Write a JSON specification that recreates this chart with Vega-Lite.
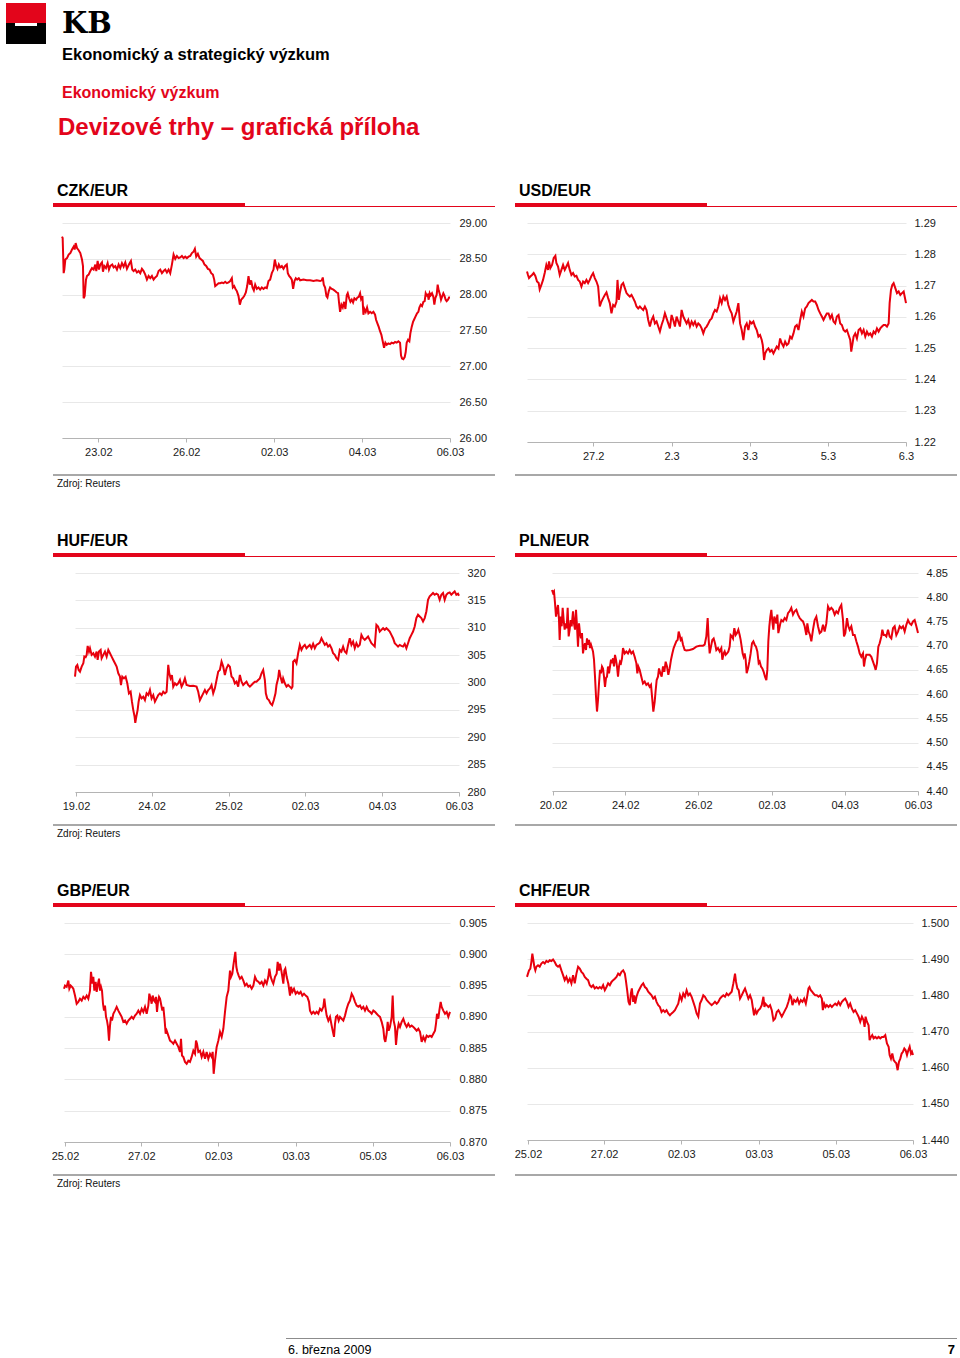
{
"$schema": "https://vega.github.io/schema/vega-lite/v6.json",
"padding": {"left": 6, "top": 3, "right": 0, "bottom": 0},
"autosize": {"type": "pad"},
"background": "white",
"bounds": "flush",
"spacing": 0,
"config": {"view": {"stroke": null}, "font": "Liberation Sans", "axis": {"labelFont": "Liberation Sans"}, "title": {"font": "Liberation Sans"}},
"datasets": {
"czk": [{"t":35,"v":28.81},{"t":37,"v":28.79},{"t":40,"v":28.30},{"t":42,"v":28.35},{"t":45,"v":28.49},{"t":50,"v":28.51},{"t":55,"v":28.56},{"t":60,"v":28.58},{"t":65,"v":28.63},{"t":70,"v":28.67},{"t":73,"v":28.63},{"t":76,"v":28.72},{"t":80,"v":28.65},{"t":85,"v":28.62},{"t":90,"v":28.58},{"t":95,"v":28.49},{"t":98,"v":28.40},{"t":100,"v":27.95},{"t":103,"v":27.98},{"t":107,"v":28.21},{"t":110,"v":28.26},{"t":115,"v":28.28},{"t":120,"v":28.33},{"t":125,"v":28.37},{"t":130,"v":28.35},{"t":135,"v":28.42},{"t":138,"v":28.33},{"t":142,"v":28.47},{"t":146,"v":28.35},{"t":150,"v":28.42},{"t":155,"v":28.45},{"t":158,"v":28.32},{"t":162,"v":28.40},{"t":167,"v":28.37},{"t":172,"v":28.44},{"t":176,"v":28.35},{"t":180,"v":28.40},{"t":186,"v":28.42},{"t":190,"v":28.38},{"t":195,"v":28.40},{"t":200,"v":28.35},{"t":205,"v":28.42},{"t":210,"v":28.37},{"t":215,"v":28.44},{"t":220,"v":28.39},{"t":225,"v":28.45},{"t":230,"v":28.36},{"t":236,"v":28.42},{"t":242,"v":28.47},{"t":246,"v":28.35},{"t":250,"v":28.33},{"t":255,"v":28.35},{"t":260,"v":28.31},{"t":265,"v":28.33},{"t":270,"v":28.30},{"t":275,"v":28.36},{"t":280,"v":28.33},{"t":285,"v":28.28},{"t":290,"v":28.21},{"t":295,"v":28.26},{"t":300,"v":28.23},{"t":305,"v":28.26},{"t":310,"v":28.21},{"t":315,"v":28.24},{"t":320,"v":28.26},{"t":325,"v":28.33},{"t":330,"v":28.35},{"t":335,"v":28.30},{"t":340,"v":28.33},{"t":345,"v":28.35},{"t":350,"v":28.31},{"t":355,"v":28.35},{"t":360,"v":28.30},{"t":365,"v":28.42},{"t":370,"v":28.56},{"t":375,"v":28.50},{"t":380,"v":28.54},{"t":385,"v":28.51},{"t":390,"v":28.52},{"t":395,"v":28.54},{"t":400,"v":28.51},{"t":405,"v":28.53},{"t":410,"v":28.51},{"t":415,"v":28.53},{"t":420,"v":28.54},{"t":425,"v":28.58},{"t":430,"v":28.60},{"t":434,"v":28.64},{"t":438,"v":28.53},{"t":443,"v":28.57},{"t":448,"v":28.51},{"t":453,"v":28.49},{"t":458,"v":28.47},{"t":463,"v":28.42},{"t":468,"v":28.40},{"t":473,"v":28.36},{"t":478,"v":28.35},{"t":483,"v":28.30},{"t":488,"v":28.28},{"t":492,"v":28.21},{"t":495,"v":28.12},{"t":500,"v":28.14},{"t":505,"v":28.16},{"t":510,"v":28.16},{"t":515,"v":28.17},{"t":520,"v":28.16},{"t":525,"v":28.18},{"t":530,"v":28.16},{"t":535,"v":28.17},{"t":540,"v":28.19},{"t":545,"v":28.23},{"t":548,"v":28.10},{"t":552,"v":28.12},{"t":556,"v":28.08},{"t":560,"v":28.05},{"t":565,"v":27.98},{"t":569,"v":27.86},{"t":573,"v":27.93},{"t":577,"v":27.95},{"t":582,"v":27.98},{"t":587,"v":28.03},{"t":591,"v":28.12},{"t":595,"v":28.26},{"t":599,"v":28.14},{"t":603,"v":28.20},{"t":607,"v":28.10},{"t":611,"v":28.06},{"t":615,"v":28.14},{"t":620,"v":28.08},{"t":625,"v":28.10},{"t":630,"v":28.07},{"t":635,"v":28.10},{"t":640,"v":28.08},{"t":645,"v":28.10},{"t":650,"v":28.09},{"t":655,"v":28.19},{"t":660,"v":28.21},{"t":665,"v":28.30},{"t":670,"v":28.35},{"t":674,"v":28.49},{"t":678,"v":28.40},{"t":682,"v":28.36},{"t":686,"v":28.42},{"t":690,"v":28.38},{"t":695,"v":28.40},{"t":700,"v":28.36},{"t":705,"v":28.40},{"t":710,"v":28.42},{"t":713,"v":28.30},{"t":717,"v":28.26},{"t":721,"v":28.24},{"t":725,"v":28.21},{"t":729,"v":28.08},{"t":733,"v":28.19},{"t":737,"v":28.23},{"t":741,"v":28.21},{"t":746,"v":28.23},{"t":750,"v":28.20},{"t":760,"v":28.21},{"t":770,"v":28.20},{"t":780,"v":28.20},{"t":790,"v":28.19},{"t":800,"v":28.20},{"t":810,"v":28.19},{"t":815,"v":28.20},{"t":818,"v":28.24},{"t":821,"v":28.14},{"t":825,"v":28.10},{"t":829,"v":27.98},{"t":832,"v":27.96},{"t":836,"v":28.05},{"t":840,"v":28.10},{"t":845,"v":28.08},{"t":850,"v":28.07},{"t":855,"v":28.05},{"t":860,"v":28.03},{"t":864,"v":28.02},{"t":867,"v":27.88},{"t":870,"v":27.76},{"t":874,"v":27.86},{"t":878,"v":27.82},{"t":882,"v":27.90},{"t":886,"v":27.80},{"t":890,"v":27.99},{"t":893,"v":28.02},{"t":897,"v":27.95},{"t":901,"v":27.90},{"t":905,"v":27.93},{"t":909,"v":27.89},{"t":913,"v":27.95},{"t":918,"v":27.93},{"t":922,"v":27.96},{"t":926,"v":27.97},{"t":930,"v":28.02},{"t":933,"v":27.94},{"t":937,"v":27.98},{"t":940,"v":27.72},{"t":943,"v":27.80},{"t":947,"v":27.76},{"t":951,"v":27.82},{"t":955,"v":27.74},{"t":960,"v":27.76},{"t":965,"v":27.74},{"t":970,"v":27.76},{"t":975,"v":27.72},{"t":978,"v":27.65},{"t":982,"v":27.60},{"t":986,"v":27.55},{"t":990,"v":27.49},{"t":994,"v":27.44},{"t":998,"v":27.35},{"t":1002,"v":27.26},{"t":1006,"v":27.33},{"t":1010,"v":27.30},{"t":1015,"v":27.32},{"t":1020,"v":27.31},{"t":1025,"v":27.33},{"t":1030,"v":27.32},{"t":1035,"v":27.34},{"t":1040,"v":27.33},{"t":1045,"v":27.35},{"t":1050,"v":27.33},{"t":1053,"v":27.15},{"t":1056,"v":27.11},{"t":1060,"v":27.10},{"t":1064,"v":27.13},{"t":1067,"v":27.20},{"t":1070,"v":27.33},{"t":1074,"v":27.37},{"t":1078,"v":27.35},{"t":1081,"v":27.46},{"t":1085,"v":27.55},{"t":1089,"v":27.62},{"t":1093,"v":27.66},{"t":1097,"v":27.70},{"t":1101,"v":27.74},{"t":1105,"v":27.76},{"t":1108,"v":27.82},{"t":1112,"v":27.86},{"t":1116,"v":27.84},{"t":1120,"v":27.90},{"t":1124,"v":27.91},{"t":1127,"v":28.02},{"t":1130,"v":27.99},{"t":1133,"v":28.00},{"t":1136,"v":27.93},{"t":1139,"v":28.02},{"t":1142,"v":27.99},{"t":1146,"v":28.02},{"t":1150,"v":27.97},{"t":1153,"v":27.86},{"t":1156,"v":27.95},{"t":1160,"v":28.00},{"t":1163,"v":28.14},{"t":1166,"v":28.06},{"t":1170,"v":28.00},{"t":1173,"v":27.93},{"t":1176,"v":27.97},{"t":1180,"v":28.02},{"t":1183,"v":27.99},{"t":1187,"v":27.93},{"t":1190,"v":27.91},{"t":1194,"v":27.93},{"t":1197,"v":27.96},{"t":1200,"v":27.96}],
"usd": [{"t":52,"v":1.2745},{"t":55,"v":1.2734},{"t":58,"v":1.2724},{"t":62,"v":1.2729},{"t":67,"v":1.2734},{"t":72,"v":1.2740},{"t":77,"v":1.2731},{"t":82,"v":1.2713},{"t":87,"v":1.2708},{"t":90,"v":1.2688},{"t":95,"v":1.2702},{"t":100,"v":1.2718},{"t":105,"v":1.2740},{"t":110,"v":1.2766},{"t":115,"v":1.2750},{"t":118,"v":1.2777},{"t":122,"v":1.2756},{"t":127,"v":1.2766},{"t":132,"v":1.2788},{"t":137,"v":1.2795},{"t":140,"v":1.2772},{"t":145,"v":1.2761},{"t":150,"v":1.2734},{"t":155,"v":1.2750},{"t":160,"v":1.2766},{"t":165,"v":1.2750},{"t":170,"v":1.2761},{"t":175,"v":1.2772},{"t":180,"v":1.2750},{"t":185,"v":1.2734},{"t":190,"v":1.2740},{"t":195,"v":1.2729},{"t":200,"v":1.2731},{"t":205,"v":1.2718},{"t":210,"v":1.2713},{"t":215,"v":1.2697},{"t":220,"v":1.2713},{"t":225,"v":1.2708},{"t":230,"v":1.2718},{"t":235,"v":1.2708},{"t":240,"v":1.2718},{"t":245,"v":1.2731},{"t":250,"v":1.2740},{"t":255,"v":1.2724},{"t":260,"v":1.2713},{"t":265,"v":1.2697},{"t":270,"v":1.2633},{"t":275,"v":1.2649},{"t":280,"v":1.2660},{"t":285,"v":1.2670},{"t":290,"v":1.2678},{"t":295,"v":1.2660},{"t":300,"v":1.2644},{"t":305,"v":1.2611},{"t":310,"v":1.2638},{"t":315,"v":1.2633},{"t":320,"v":1.2649},{"t":323,"v":1.2718},{"t":327,"v":1.2654},{"t":330,"v":1.2676},{"t":335,"v":1.2702},{"t":340,"v":1.2708},{"t":345,"v":1.2692},{"t":350,"v":1.2676},{"t":355,"v":1.2670},{"t":360,"v":1.2665},{"t":365,"v":1.2670},{"t":370,"v":1.2660},{"t":375,"v":1.2649},{"t":380,"v":1.2633},{"t":385,"v":1.2627},{"t":390,"v":1.2633},{"t":395,"v":1.2627},{"t":400,"v":1.2622},{"t":405,"v":1.2633},{"t":410,"v":1.2622},{"t":415,"v":1.2590},{"t":420,"v":1.2569},{"t":425,"v":1.2590},{"t":430,"v":1.2601},{"t":435,"v":1.2579},{"t":440,"v":1.2585},{"t":445,"v":1.2569},{"t":450,"v":1.2553},{"t":455,"v":1.2574},{"t":460,"v":1.2590},{"t":465,"v":1.2611},{"t":470,"v":1.2595},{"t":475,"v":1.2579},{"t":480,"v":1.2563},{"t":485,"v":1.2606},{"t":490,"v":1.2590},{"t":495,"v":1.2569},{"t":500,"v":1.2601},{"t":505,"v":1.2585},{"t":510,"v":1.2569},{"t":515,"v":1.2622},{"t":520,"v":1.2601},{"t":525,"v":1.2590},{"t":530,"v":1.2579},{"t":535,"v":1.2590},{"t":540,"v":1.2569},{"t":545,"v":1.2585},{"t":550,"v":1.2574},{"t":555,"v":1.2585},{"t":560,"v":1.2569},{"t":565,"v":1.2579},{"t":570,"v":1.2574},{"t":575,"v":1.2563},{"t":580,"v":1.2547},{"t":585,"v":1.2563},{"t":590,"v":1.2569},{"t":595,"v":1.2579},{"t":600,"v":1.2590},{"t":605,"v":1.2595},{"t":610,"v":1.2611},{"t":615,"v":1.2622},{"t":620,"v":1.2617},{"t":625,"v":1.2633},{"t":630,"v":1.2660},{"t":635,"v":1.2644},{"t":640,"v":1.2665},{"t":645,"v":1.2654},{"t":650,"v":1.2665},{"t":655,"v":1.2638},{"t":660,"v":1.2622},{"t":665,"v":1.2611},{"t":670,"v":1.2585},{"t":675,"v":1.2601},{"t":680,"v":1.2617},{"t":685,"v":1.2644},{"t":690,"v":1.2579},{"t":695,"v":1.2558},{"t":700,"v":1.2526},{"t":705,"v":1.2569},{"t":710,"v":1.2579},{"t":715,"v":1.2558},{"t":720,"v":1.2585},{"t":725,"v":1.2579},{"t":730,"v":1.2585},{"t":735,"v":1.2569},{"t":740,"v":1.2558},{"t":745,"v":1.2537},{"t":750,"v":1.2542},{"t":755,"v":1.2526},{"t":758,"v":1.2510},{"t":762,"v":1.2462},{"t":765,"v":1.2483},{"t":770,"v":1.2494},{"t":775,"v":1.2499},{"t":780,"v":1.2489},{"t":785,"v":1.2494},{"t":790,"v":1.2483},{"t":795,"v":1.2494},{"t":800,"v":1.2505},{"t":805,"v":1.2499},{"t":810,"v":1.2531},{"t":815,"v":1.2515},{"t":820,"v":1.2505},{"t":825,"v":1.2521},{"t":830,"v":1.2510},{"t":835,"v":1.2515},{"t":840,"v":1.2537},{"t":845,"v":1.2531},{"t":850,"v":1.2547},{"t":855,"v":1.2569},{"t":860,"v":1.2574},{"t":865,"v":1.2558},{"t":870,"v":1.2590},{"t":875,"v":1.2617},{"t":880,"v":1.2601},{"t":885,"v":1.2627},{"t":890,"v":1.2633},{"t":895,"v":1.2644},{"t":900,"v":1.2649},{"t":905,"v":1.2654},{"t":910,"v":1.2649},{"t":915,"v":1.2649},{"t":920,"v":1.2638},{"t":925,"v":1.2622},{"t":930,"v":1.2611},{"t":935,"v":1.2601},{"t":940,"v":1.2590},{"t":945,"v":1.2601},{"t":950,"v":1.2611},{"t":955,"v":1.2611},{"t":960,"v":1.2595},{"t":965,"v":1.2606},{"t":970,"v":1.2585},{"t":975,"v":1.2579},{"t":980,"v":1.2601},{"t":985,"v":1.2606},{"t":990,"v":1.2579},{"t":995,"v":1.2574},{"t":1000,"v":1.2558},{"t":1005,"v":1.2553},{"t":1010,"v":1.2558},{"t":1015,"v":1.2542},{"t":1020,"v":1.2526},{"t":1023,"v":1.2489},{"t":1027,"v":1.2515},{"t":1030,"v":1.2537},{"t":1035,"v":1.2547},{"t":1040,"v":1.2531},{"t":1045,"v":1.2558},{"t":1050,"v":1.2563},{"t":1055,"v":1.2547},{"t":1060,"v":1.2558},{"t":1065,"v":1.2537},{"t":1070,"v":1.2553},{"t":1075,"v":1.2542},{"t":1080,"v":1.2547},{"t":1085,"v":1.2537},{"t":1090,"v":1.2553},{"t":1095,"v":1.2547},{"t":1100,"v":1.2563},{"t":1105,"v":1.2553},{"t":1110,"v":1.2563},{"t":1115,"v":1.2569},{"t":1120,"v":1.2574},{"t":1125,"v":1.2574},{"t":1130,"v":1.2569},{"t":1135,"v":1.2579},{"t":1138,"v":1.2644},{"t":1142,"v":1.2686},{"t":1146,"v":1.2702},{"t":1150,"v":1.2708},{"t":1155,"v":1.2692},{"t":1160,"v":1.2676},{"t":1165,"v":1.2681},{"t":1170,"v":1.2670},{"t":1175,"v":1.2676},{"t":1180,"v":1.2681},{"t":1183,"v":1.2665},{"t":1187,"v":1.2644}],
"huf": [{"t":75,"v":301.07},{"t":78,"v":302.90},{"t":82,"v":303.21},{"t":86,"v":302.29},{"t":90,"v":301.98},{"t":95,"v":302.90},{"t":100,"v":303.51},{"t":103,"v":304.73},{"t":107,"v":304.61},{"t":110,"v":305.04},{"t":113,"v":306.69},{"t":117,"v":305.65},{"t":120,"v":306.26},{"t":125,"v":305.04},{"t":130,"v":305.34},{"t":135,"v":304.73},{"t":140,"v":305.65},{"t":143,"v":304.12},{"t":147,"v":305.65},{"t":152,"v":305.95},{"t":155,"v":304.43},{"t":160,"v":305.04},{"t":165,"v":305.65},{"t":170,"v":304.73},{"t":175,"v":305.95},{"t":180,"v":305.34},{"t":185,"v":304.73},{"t":190,"v":304.12},{"t":195,"v":303.51},{"t":200,"v":302.90},{"t":205,"v":301.68},{"t":210,"v":301.07},{"t":213,"v":299.54},{"t":217,"v":301.07},{"t":222,"v":300.76},{"t":227,"v":301.07},{"t":232,"v":299.85},{"t":237,"v":298.02},{"t":242,"v":298.32},{"t":246,"v":296.49},{"t":250,"v":294.96},{"t":254,"v":293.74},{"t":256,"v":292.64},{"t":259,"v":293.74},{"t":263,"v":294.96},{"t":266,"v":296.49},{"t":270,"v":297.71},{"t":275,"v":297.10},{"t":280,"v":297.40},{"t":285,"v":296.79},{"t":290,"v":298.02},{"t":295,"v":297.71},{"t":300,"v":298.63},{"t":305,"v":297.10},{"t":310,"v":297.71},{"t":315,"v":296.49},{"t":320,"v":297.10},{"t":325,"v":297.71},{"t":330,"v":298.02},{"t":335,"v":297.71},{"t":340,"v":298.32},{"t":345,"v":298.02},{"t":350,"v":298.32},{"t":355,"v":303.21},{"t":358,"v":301.68},{"t":362,"v":300.76},{"t":366,"v":301.37},{"t":370,"v":299.24},{"t":375,"v":299.85},{"t":380,"v":299.54},{"t":385,"v":299.85},{"t":390,"v":300.46},{"t":395,"v":299.24},{"t":400,"v":299.85},{"t":405,"v":300.76},{"t":410,"v":299.54},{"t":420,"v":299.36},{"t":430,"v":299.42},{"t":440,"v":299.24},{"t":445,"v":298.32},{"t":450,"v":296.79},{"t":455,"v":297.40},{"t":460,"v":298.02},{"t":465,"v":298.63},{"t":470,"v":298.02},{"t":475,"v":298.63},{"t":480,"v":298.93},{"t":485,"v":299.54},{"t":490,"v":298.02},{"t":495,"v":298.93},{"t":500,"v":300.46},{"t":505,"v":301.98},{"t":510,"v":302.29},{"t":515,"v":303.82},{"t":520,"v":302.90},{"t":525,"v":301.37},{"t":530,"v":302.60},{"t":535,"v":303.21},{"t":540,"v":302.90},{"t":545,"v":301.07},{"t":550,"v":300.76},{"t":555,"v":299.85},{"t":560,"v":300.15},{"t":565,"v":299.24},{"t":570,"v":301.37},{"t":575,"v":300.15},{"t":580,"v":299.54},{"t":585,"v":299.85},{"t":590,"v":300.15},{"t":595,"v":299.54},{"t":600,"v":299.24},{"t":605,"v":299.54},{"t":610,"v":299.85},{"t":615,"v":300.15},{"t":620,"v":300.15},{"t":625,"v":300.46},{"t":630,"v":300.76},{"t":635,"v":301.68},{"t":640,"v":302.29},{"t":645,"v":300.46},{"t":648,"v":298.02},{"t":652,"v":297.10},{"t":657,"v":296.79},{"t":662,"v":296.18},{"t":667,"v":295.88},{"t":672,"v":296.79},{"t":677,"v":298.02},{"t":680,"v":299.54},{"t":685,"v":300.76},{"t":688,"v":302.29},{"t":692,"v":301.07},{"t":697,"v":299.85},{"t":700,"v":300.76},{"t":705,"v":299.85},{"t":710,"v":299.24},{"t":715,"v":299.54},{"t":720,"v":299.24},{"t":725,"v":298.93},{"t":728,"v":299.24},{"t":730,"v":303.82},{"t":735,"v":304.12},{"t":740,"v":303.51},{"t":745,"v":305.34},{"t":750,"v":306.87},{"t":755,"v":305.95},{"t":760,"v":306.56},{"t":765,"v":306.87},{"t":770,"v":306.26},{"t":775,"v":306.56},{"t":780,"v":306.87},{"t":785,"v":306.26},{"t":790,"v":307.05},{"t":795,"v":306.26},{"t":800,"v":306.87},{"t":805,"v":307.05},{"t":810,"v":307.30},{"t":815,"v":308.09},{"t":820,"v":307.48},{"t":825,"v":306.87},{"t":830,"v":307.18},{"t":835,"v":306.56},{"t":840,"v":306.87},{"t":845,"v":306.26},{"t":850,"v":305.34},{"t":855,"v":305.04},{"t":860,"v":304.43},{"t":865,"v":304.12},{"t":870,"v":305.95},{"t":875,"v":305.65},{"t":880,"v":306.56},{"t":885,"v":305.65},{"t":890,"v":305.34},{"t":895,"v":306.87},{"t":900,"v":308.09},{"t":905,"v":306.87},{"t":910,"v":307.48},{"t":915,"v":306.26},{"t":920,"v":307.18},{"t":925,"v":306.56},{"t":930,"v":306.87},{"t":935,"v":308.70},{"t":940,"v":308.09},{"t":945,"v":307.79},{"t":950,"v":308.09},{"t":955,"v":308.40},{"t":960,"v":307.79},{"t":965,"v":307.18},{"t":970,"v":306.87},{"t":975,"v":306.56},{"t":980,"v":310.53},{"t":985,"v":310.23},{"t":990,"v":309.31},{"t":995,"v":309.62},{"t":1000,"v":309.92},{"t":1005,"v":309.62},{"t":1010,"v":309.92},{"t":1015,"v":309.62},{"t":1020,"v":309.31},{"t":1025,"v":308.70},{"t":1030,"v":308.09},{"t":1035,"v":307.18},{"t":1040,"v":306.87},{"t":1045,"v":306.56},{"t":1050,"v":306.87},{"t":1055,"v":306.69},{"t":1060,"v":306.56},{"t":1065,"v":307.05},{"t":1070,"v":306.26},{"t":1075,"v":307.18},{"t":1080,"v":308.09},{"t":1085,"v":308.70},{"t":1090,"v":309.31},{"t":1095,"v":310.23},{"t":1100,"v":311.76},{"t":1105,"v":312.37},{"t":1110,"v":312.06},{"t":1115,"v":311.76},{"t":1120,"v":311.15},{"t":1125,"v":311.76},{"t":1130,"v":312.98},{"t":1135,"v":315.11},{"t":1140,"v":315.73},{"t":1145,"v":316.03},{"t":1150,"v":316.34},{"t":1155,"v":316.03},{"t":1160,"v":316.21},{"t":1165,"v":316.03},{"t":1170,"v":315.11},{"t":1175,"v":316.03},{"t":1180,"v":316.34},{"t":1185,"v":315.11},{"t":1190,"v":316.03},{"t":1195,"v":316.34},{"t":1200,"v":316.46},{"t":1205,"v":316.03},{"t":1210,"v":316.34},{"t":1215,"v":316.64},{"t":1220,"v":316.03},{"t":1225,"v":316.21},{"t":1228,"v":315.85}],
"pln": [{"t":127,"v":4.815},{"t":130,"v":4.809},{"t":133,"v":4.812},{"t":136,"v":4.788},{"t":139,"v":4.760},{"t":142,"v":4.774},{"t":145,"v":4.784},{"t":148,"v":4.753},{"t":150,"v":4.712},{"t":153,"v":4.760},{"t":156,"v":4.740},{"t":159,"v":4.778},{"t":162,"v":4.753},{"t":165,"v":4.733},{"t":168,"v":4.746},{"t":171,"v":4.736},{"t":174,"v":4.778},{"t":177,"v":4.719},{"t":180,"v":4.733},{"t":183,"v":4.753},{"t":186,"v":4.740},{"t":190,"v":4.771},{"t":193,"v":4.746},{"t":196,"v":4.733},{"t":199,"v":4.774},{"t":202,"v":4.740},{"t":205,"v":4.698},{"t":208,"v":4.746},{"t":211,"v":4.726},{"t":214,"v":4.715},{"t":217,"v":4.726},{"t":220,"v":4.684},{"t":223,"v":4.698},{"t":226,"v":4.705},{"t":229,"v":4.691},{"t":232,"v":4.715},{"t":235,"v":4.702},{"t":238,"v":4.712},{"t":241,"v":4.695},{"t":244,"v":4.702},{"t":247,"v":4.695},{"t":250,"v":4.688},{"t":253,"v":4.671},{"t":256,"v":4.636},{"t":259,"v":4.595},{"t":262,"v":4.564},{"t":265,"v":4.588},{"t":268,"v":4.622},{"t":271,"v":4.650},{"t":274,"v":4.643},{"t":277,"v":4.657},{"t":280,"v":4.653},{"t":283,"v":4.636},{"t":286,"v":4.615},{"t":289,"v":4.633},{"t":292,"v":4.636},{"t":295,"v":4.657},{"t":298,"v":4.643},{"t":301,"v":4.657},{"t":304,"v":4.671},{"t":307,"v":4.664},{"t":310,"v":4.674},{"t":313,"v":4.657},{"t":316,"v":4.681},{"t":319,"v":4.671},{"t":322,"v":4.657},{"t":325,"v":4.636},{"t":328,"v":4.657},{"t":331,"v":4.667},{"t":334,"v":4.664},{"t":337,"v":4.674},{"t":340,"v":4.695},{"t":345,"v":4.684},{"t":350,"v":4.688},{"t":355,"v":4.684},{"t":360,"v":4.691},{"t":365,"v":4.684},{"t":370,"v":4.688},{"t":375,"v":4.677},{"t":380,"v":4.664},{"t":383,"v":4.643},{"t":386,"v":4.657},{"t":390,"v":4.650},{"t":395,"v":4.636},{"t":400,"v":4.622},{"t":405,"v":4.626},{"t":410,"v":4.619},{"t":415,"v":4.622},{"t":420,"v":4.615},{"t":424,"v":4.619},{"t":428,"v":4.588},{"t":431,"v":4.564},{"t":435,"v":4.584},{"t":438,"v":4.608},{"t":441,"v":4.629},{"t":445,"v":4.636},{"t":448,"v":4.653},{"t":452,"v":4.643},{"t":456,"v":4.636},{"t":460,"v":4.657},{"t":464,"v":4.646},{"t":468,"v":4.667},{"t":472,"v":4.657},{"t":476,"v":4.640},{"t":480,"v":4.653},{"t":484,"v":4.671},{"t":488,"v":4.684},{"t":492,"v":4.695},{"t":496,"v":4.702},{"t":500,"v":4.709},{"t":504,"v":4.712},{"t":507,"v":4.729},{"t":510,"v":4.722},{"t":513,"v":4.712},{"t":516,"v":4.715},{"t":520,"v":4.702},{"t":525,"v":4.691},{"t":530,"v":4.690},{"t":540,"v":4.691},{"t":550,"v":4.693},{"t":560,"v":4.698},{"t":570,"v":4.700},{"t":580,"v":4.700},{"t":585,"v":4.702},{"t":590,"v":4.719},{"t":594,"v":4.757},{"t":597,"v":4.712},{"t":600,"v":4.684},{"t":604,"v":4.698},{"t":608,"v":4.712},{"t":612,"v":4.715},{"t":616,"v":4.705},{"t":620,"v":4.691},{"t":625,"v":4.695},{"t":630,"v":4.688},{"t":635,"v":4.695},{"t":638,"v":4.671},{"t":642,"v":4.684},{"t":645,"v":4.688},{"t":648,"v":4.681},{"t":652,"v":4.684},{"t":656,"v":4.688},{"t":660,"v":4.698},{"t":663,"v":4.722},{"t":667,"v":4.719},{"t":670,"v":4.715},{"t":674,"v":4.736},{"t":678,"v":4.722},{"t":682,"v":4.726},{"t":686,"v":4.733},{"t":690,"v":4.722},{"t":693,"v":4.712},{"t":696,"v":4.698},{"t":699,"v":4.684},{"t":702,"v":4.677},{"t":705,"v":4.684},{"t":708,"v":4.671},{"t":711,"v":4.643},{"t":715,"v":4.653},{"t":719,"v":4.667},{"t":723,"v":4.684},{"t":727,"v":4.705},{"t":731,"v":4.709},{"t":735,"v":4.702},{"t":739,"v":4.698},{"t":743,"v":4.688},{"t":747,"v":4.664},{"t":750,"v":4.667},{"t":754,"v":4.657},{"t":758,"v":4.653},{"t":762,"v":4.646},{"t":766,"v":4.636},{"t":770,"v":4.629},{"t":773,"v":4.650},{"t":776,"v":4.709},{"t":779,"v":4.740},{"t":782,"v":4.760},{"t":785,"v":4.774},{"t":788,"v":4.750},{"t":791,"v":4.733},{"t":794,"v":4.760},{"t":797,"v":4.753},{"t":800,"v":4.746},{"t":803,"v":4.764},{"t":806,"v":4.726},{"t":809,"v":4.736},{"t":812,"v":4.746},{"t":815,"v":4.753},{"t":820,"v":4.750},{"t":825,"v":4.757},{"t":830,"v":4.753},{"t":835,"v":4.767},{"t":840,"v":4.771},{"t":845,"v":4.778},{"t":850,"v":4.764},{"t":855,"v":4.771},{"t":860,"v":4.774},{"t":865,"v":4.764},{"t":870,"v":4.757},{"t":875,"v":4.753},{"t":880,"v":4.750},{"t":885,"v":4.740},{"t":890,"v":4.722},{"t":893,"v":4.746},{"t":897,"v":4.729},{"t":901,"v":4.722},{"t":905,"v":4.709},{"t":910,"v":4.733},{"t":915,"v":4.753},{"t":920,"v":4.760},{"t":925,"v":4.740},{"t":930,"v":4.726},{"t":935,"v":4.729},{"t":940,"v":4.743},{"t":945,"v":4.729},{"t":950,"v":4.746},{"t":955,"v":4.781},{"t":960,"v":4.774},{"t":965,"v":4.778},{"t":970,"v":4.774},{"t":975,"v":4.764},{"t":980,"v":4.771},{"t":985,"v":4.767},{"t":990,"v":4.778},{"t":995,"v":4.784},{"t":1000,"v":4.753},{"t":1003,"v":4.719},{"t":1007,"v":4.726},{"t":1012,"v":4.757},{"t":1016,"v":4.740},{"t":1020,"v":4.733},{"t":1025,"v":4.740},{"t":1030,"v":4.722},{"t":1035,"v":4.722},{"t":1040,"v":4.709},{"t":1045,"v":4.698},{"t":1050,"v":4.684},{"t":1055,"v":4.677},{"t":1060,"v":4.684},{"t":1063,"v":4.657},{"t":1066,"v":4.671},{"t":1070,"v":4.681},{"t":1075,"v":4.681},{"t":1080,"v":4.681},{"t":1085,"v":4.677},{"t":1090,"v":4.667},{"t":1095,"v":4.657},{"t":1098,"v":4.650},{"t":1102,"v":4.664},{"t":1106,"v":4.698},{"t":1110,"v":4.705},{"t":1115,"v":4.719},{"t":1118,"v":4.733},{"t":1122,"v":4.722},{"t":1126,"v":4.722},{"t":1130,"v":4.719},{"t":1135,"v":4.733},{"t":1140,"v":4.719},{"t":1145,"v":4.715},{"t":1150,"v":4.736},{"t":1155,"v":4.740},{"t":1160,"v":4.722},{"t":1165,"v":4.729},{"t":1170,"v":4.740},{"t":1175,"v":4.736},{"t":1180,"v":4.740},{"t":1185,"v":4.729},{"t":1190,"v":4.743},{"t":1195,"v":4.753},{"t":1200,"v":4.746},{"t":1205,"v":4.743},{"t":1210,"v":4.750},{"t":1215,"v":4.753},{"t":1220,"v":4.740},{"t":1225,"v":4.726}],
"gbp": [{"t":42,"v":0.8945},{"t":45,"v":0.8950},{"t":50,"v":0.8948},{"t":55,"v":0.8958},{"t":58,"v":0.8945},{"t":62,"v":0.8950},{"t":66,"v":0.8948},{"t":70,"v":0.8945},{"t":75,"v":0.8934},{"t":80,"v":0.8921},{"t":85,"v":0.8924},{"t":90,"v":0.8929},{"t":95,"v":0.8926},{"t":100,"v":0.8932},{"t":105,"v":0.8929},{"t":110,"v":0.8934},{"t":115,"v":0.8929},{"t":120,"v":0.8942},{"t":123,"v":0.8972},{"t":127,"v":0.8953},{"t":130,"v":0.8964},{"t":133,"v":0.8942},{"t":137,"v":0.8956},{"t":140,"v":0.8940},{"t":143,"v":0.8950},{"t":147,"v":0.8961},{"t":150,"v":0.8942},{"t":153,"v":0.8948},{"t":156,"v":0.8942},{"t":159,"v":0.8921},{"t":162,"v":0.8910},{"t":165,"v":0.8918},{"t":168,"v":0.8900},{"t":171,"v":0.8894},{"t":174,"v":0.8884},{"t":177,"v":0.8862},{"t":180,"v":0.8886},{"t":183,"v":0.8900},{"t":186,"v":0.8894},{"t":190,"v":0.8905},{"t":195,"v":0.8910},{"t":200,"v":0.8916},{"t":205,"v":0.8910},{"t":210,"v":0.8905},{"t":215,"v":0.8900},{"t":220,"v":0.8892},{"t":225,"v":0.8894},{"t":230,"v":0.8889},{"t":235,"v":0.8894},{"t":240,"v":0.8897},{"t":245,"v":0.8900},{"t":250,"v":0.8897},{"t":255,"v":0.8902},{"t":260,"v":0.8905},{"t":265,"v":0.8910},{"t":270,"v":0.8905},{"t":275,"v":0.8913},{"t":280,"v":0.8908},{"t":285,"v":0.8916},{"t":290,"v":0.8905},{"t":295,"v":0.8918},{"t":298,"v":0.8937},{"t":302,"v":0.8929},{"t":305,"v":0.8921},{"t":308,"v":0.8934},{"t":312,"v":0.8926},{"t":315,"v":0.8924},{"t":318,"v":0.8932},{"t":321,"v":0.8908},{"t":324,"v":0.8924},{"t":327,"v":0.8932},{"t":330,"v":0.8929},{"t":333,"v":0.8921},{"t":337,"v":0.8910},{"t":340,"v":0.8916},{"t":344,"v":0.8894},{"t":347,"v":0.8873},{"t":350,"v":0.8878},{"t":355,"v":0.8870},{"t":360,"v":0.8862},{"t":365,"v":0.8860},{"t":370,"v":0.8857},{"t":375,"v":0.8862},{"t":380,"v":0.8857},{"t":385,"v":0.8852},{"t":390,"v":0.8844},{"t":393,"v":0.8865},{"t":396,"v":0.8838},{"t":400,"v":0.8836},{"t":405,"v":0.8828},{"t":410,"v":0.8825},{"t":415,"v":0.8830},{"t":420,"v":0.8828},{"t":425,"v":0.8836},{"t":430,"v":0.8846},{"t":435,"v":0.8841},{"t":438,"v":0.8862},{"t":441,"v":0.8857},{"t":445,"v":0.8844},{"t":450,"v":0.8846},{"t":455,"v":0.8836},{"t":460,"v":0.8844},{"t":465,"v":0.8833},{"t":470,"v":0.8844},{"t":475,"v":0.8833},{"t":480,"v":0.8841},{"t":485,"v":0.8836},{"t":488,"v":0.8844},{"t":491,"v":0.8809},{"t":495,"v":0.8830},{"t":500,"v":0.8852},{"t":505,"v":0.8862},{"t":510,"v":0.8876},{"t":515,"v":0.8868},{"t":520,"v":0.8881},{"t":525,"v":0.8908},{"t":530,"v":0.8932},{"t":535,"v":0.8942},{"t":540,"v":0.8974},{"t":543,"v":0.8964},{"t":547,"v":0.8969},{"t":550,"v":0.8982},{"t":553,"v":0.8993},{"t":556,"v":0.9004},{"t":559,"v":0.8980},{"t":562,"v":0.8972},{"t":566,"v":0.8966},{"t":570,"v":0.8961},{"t":575,"v":0.8964},{"t":580,"v":0.8958},{"t":585,"v":0.8950},{"t":590,"v":0.8953},{"t":595,"v":0.8948},{"t":600,"v":0.8950},{"t":605,"v":0.8945},{"t":610,"v":0.8950},{"t":615,"v":0.8964},{"t":620,"v":0.8958},{"t":625,"v":0.8956},{"t":630,"v":0.8953},{"t":635,"v":0.8956},{"t":640,"v":0.8950},{"t":645,"v":0.8958},{"t":650,"v":0.8953},{"t":655,"v":0.8964},{"t":658,"v":0.8977},{"t":662,"v":0.8964},{"t":666,"v":0.8958},{"t":670,"v":0.8953},{"t":675,"v":0.8964},{"t":680,"v":0.8969},{"t":683,"v":0.8988},{"t":687,"v":0.8974},{"t":690,"v":0.8985},{"t":694,"v":0.8974},{"t":697,"v":0.8964},{"t":700,"v":0.8953},{"t":703,"v":0.8974},{"t":706,"v":0.8977},{"t":710,"v":0.8964},{"t":715,"v":0.8953},{"t":720,"v":0.8934},{"t":723,"v":0.8948},{"t":727,"v":0.8940},{"t":732,"v":0.8945},{"t":737,"v":0.8937},{"t":742,"v":0.8940},{"t":747,"v":0.8937},{"t":752,"v":0.8940},{"t":757,"v":0.8934},{"t":762,"v":0.8937},{"t":767,"v":0.8934},{"t":772,"v":0.8932},{"t":777,"v":0.8924},{"t":780,"v":0.8910},{"t":785,"v":0.8905},{"t":790,"v":0.8908},{"t":795,"v":0.8905},{"t":800,"v":0.8908},{"t":805,"v":0.8905},{"t":810,"v":0.8913},{"t":815,"v":0.8910},{"t":820,"v":0.8916},{"t":823,"v":0.8929},{"t":826,"v":0.8916},{"t":830,"v":0.8902},{"t":835,"v":0.8894},{"t":840,"v":0.8900},{"t":845,"v":0.8886},{"t":848,"v":0.8878},{"t":852,"v":0.8868},{"t":855,"v":0.8889},{"t":858,"v":0.8900},{"t":862,"v":0.8902},{"t":866,"v":0.8894},{"t":870,"v":0.8900},{"t":875,"v":0.8897},{"t":880,"v":0.8894},{"t":885,"v":0.8902},{"t":890,"v":0.8913},{"t":895,"v":0.8921},{"t":900,"v":0.8926},{"t":905,"v":0.8937},{"t":910,"v":0.8932},{"t":915,"v":0.8924},{"t":920,"v":0.8918},{"t":925,"v":0.8916},{"t":930,"v":0.8918},{"t":935,"v":0.8913},{"t":940,"v":0.8916},{"t":945,"v":0.8910},{"t":950,"v":0.8916},{"t":955,"v":0.8910},{"t":960,"v":0.8908},{"t":965,"v":0.8905},{"t":970,"v":0.8910},{"t":975,"v":0.8908},{"t":980,"v":0.8905},{"t":985,"v":0.8902},{"t":990,"v":0.8900},{"t":995,"v":0.8892},{"t":1000,"v":0.8881},{"t":1003,"v":0.8865},{"t":1006,"v":0.8860},{"t":1010,"v":0.8873},{"t":1013,"v":0.8892},{"t":1016,"v":0.8878},{"t":1020,"v":0.8884},{"t":1025,"v":0.8900},{"t":1028,"v":0.8934},{"t":1031,"v":0.8894},{"t":1035,"v":0.8884},{"t":1038,"v":0.8855},{"t":1042,"v":0.8878},{"t":1046,"v":0.8889},{"t":1050,"v":0.8884},{"t":1055,"v":0.8892},{"t":1060,"v":0.8897},{"t":1065,"v":0.8889},{"t":1070,"v":0.8884},{"t":1075,"v":0.8889},{"t":1080,"v":0.8884},{"t":1085,"v":0.8886},{"t":1090,"v":0.8884},{"t":1095,"v":0.8881},{"t":1100,"v":0.8878},{"t":1105,"v":0.8881},{"t":1110,"v":0.8876},{"t":1115,"v":0.8860},{"t":1120,"v":0.8868},{"t":1125,"v":0.8862},{"t":1130,"v":0.8870},{"t":1135,"v":0.8868},{"t":1140,"v":0.8870},{"t":1145,"v":0.8868},{"t":1150,"v":0.8873},{"t":1155,"v":0.8878},{"t":1158,"v":0.8889},{"t":1161,"v":0.8905},{"t":1165,"v":0.8897},{"t":1168,"v":0.8910},{"t":1172,"v":0.8924},{"t":1175,"v":0.8916},{"t":1180,"v":0.8910},{"t":1185,"v":0.8905},{"t":1190,"v":0.8908},{"t":1195,"v":0.8900},{"t":1200,"v":0.8908}],
"chf": [{"t":52,"v":1.4851},{"t":55,"v":1.4860},{"t":58,"v":1.4869},{"t":62,"v":1.4874},{"t":65,"v":1.4892},{"t":68,"v":1.4915},{"t":71,"v":1.4897},{"t":74,"v":1.4879},{"t":77,"v":1.4869},{"t":80,"v":1.4879},{"t":85,"v":1.4883},{"t":90,"v":1.4879},{"t":95,"v":1.4888},{"t":100,"v":1.4892},{"t":105,"v":1.4888},{"t":110,"v":1.4895},{"t":115,"v":1.4892},{"t":120,"v":1.4897},{"t":125,"v":1.4895},{"t":130,"v":1.4899},{"t":135,"v":1.4892},{"t":140,"v":1.4883},{"t":145,"v":1.4879},{"t":150,"v":1.4883},{"t":155,"v":1.4869},{"t":160,"v":1.4856},{"t":165,"v":1.4842},{"t":170,"v":1.4851},{"t":175,"v":1.4837},{"t":180,"v":1.4846},{"t":185,"v":1.4833},{"t":190,"v":1.4856},{"t":195,"v":1.4833},{"t":200,"v":1.4860},{"t":205,"v":1.4879},{"t":210,"v":1.4874},{"t":215,"v":1.4865},{"t":220,"v":1.4860},{"t":225,"v":1.4851},{"t":230,"v":1.4846},{"t":235,"v":1.4842},{"t":240,"v":1.4828},{"t":245,"v":1.4823},{"t":250,"v":1.4828},{"t":255,"v":1.4819},{"t":260,"v":1.4823},{"t":265,"v":1.4819},{"t":270,"v":1.4823},{"t":275,"v":1.4819},{"t":280,"v":1.4828},{"t":285,"v":1.4814},{"t":290,"v":1.4823},{"t":295,"v":1.4833},{"t":300,"v":1.4828},{"t":305,"v":1.4837},{"t":310,"v":1.4842},{"t":315,"v":1.4846},{"t":320,"v":1.4851},{"t":325,"v":1.4860},{"t":330,"v":1.4856},{"t":335,"v":1.4865},{"t":340,"v":1.4869},{"t":345,"v":1.4860},{"t":348,"v":1.4842},{"t":352,"v":1.4814},{"t":356,"v":1.4782},{"t":360,"v":1.4773},{"t":363,"v":1.4805},{"t":366,"v":1.4819},{"t":370,"v":1.4782},{"t":373,"v":1.4800},{"t":376,"v":1.4777},{"t":380,"v":1.4796},{"t":385,"v":1.4810},{"t":390,"v":1.4819},{"t":395,"v":1.4828},{"t":400,"v":1.4833},{"t":405,"v":1.4823},{"t":410,"v":1.4819},{"t":415,"v":1.4810},{"t":420,"v":1.4805},{"t":425,"v":1.4800},{"t":430,"v":1.4791},{"t":435,"v":1.4796},{"t":440,"v":1.4782},{"t":445,"v":1.4773},{"t":450,"v":1.4768},{"t":455,"v":1.4754},{"t":460,"v":1.4759},{"t":465,"v":1.4754},{"t":470,"v":1.4759},{"t":475,"v":1.4750},{"t":480,"v":1.4745},{"t":485,"v":1.4750},{"t":490,"v":1.4754},{"t":495,"v":1.4759},{"t":500,"v":1.4768},{"t":505,"v":1.4777},{"t":510,"v":1.4800},{"t":515,"v":1.4787},{"t":520,"v":1.4805},{"t":525,"v":1.4796},{"t":530,"v":1.4814},{"t":535,"v":1.4800},{"t":540,"v":1.4805},{"t":545,"v":1.4796},{"t":550,"v":1.4782},{"t":555,"v":1.4768},{"t":560,"v":1.4750},{"t":565,"v":1.4741},{"t":570,"v":1.4777},{"t":575,"v":1.4787},{"t":580,"v":1.4800},{"t":585,"v":1.4796},{"t":590,"v":1.4787},{"t":595,"v":1.4782},{"t":600,"v":1.4777},{"t":605,"v":1.4773},{"t":610,"v":1.4777},{"t":615,"v":1.4782},{"t":620,"v":1.4777},{"t":625,"v":1.4782},{"t":630,"v":1.4791},{"t":635,"v":1.4796},{"t":640,"v":1.4800},{"t":645,"v":1.4796},{"t":650,"v":1.4805},{"t":655,"v":1.4800},{"t":660,"v":1.4805},{"t":665,"v":1.4810},{"t":670,"v":1.4833},{"t":675,"v":1.4860},{"t":678,"v":1.4837},{"t":682,"v":1.4819},{"t":686,"v":1.4814},{"t":690,"v":1.4791},{"t":695,"v":1.4800},{"t":700,"v":1.4810},{"t":705,"v":1.4819},{"t":710,"v":1.4805},{"t":715,"v":1.4791},{"t":720,"v":1.4800},{"t":725,"v":1.4787},{"t":728,"v":1.4768},{"t":732,"v":1.4745},{"t":736,"v":1.4759},{"t":740,"v":1.4750},{"t":745,"v":1.4759},{"t":750,"v":1.4763},{"t":755,"v":1.4773},{"t":760,"v":1.4796},{"t":763,"v":1.4768},{"t":766,"v":1.4777},{"t":770,"v":1.4773},{"t":775,"v":1.4768},{"t":780,"v":1.4773},{"t":785,"v":1.4759},{"t":790,"v":1.4731},{"t":795,"v":1.4736},{"t":800,"v":1.4754},{"t":805,"v":1.4759},{"t":810,"v":1.4750},{"t":815,"v":1.4741},{"t":820,"v":1.4750},{"t":825,"v":1.4759},{"t":830,"v":1.4768},{"t":835,"v":1.4782},{"t":840,"v":1.4800},{"t":843,"v":1.4796},{"t":847,"v":1.4773},{"t":852,"v":1.4787},{"t":857,"v":1.4782},{"t":862,"v":1.4791},{"t":867,"v":1.4777},{"t":872,"v":1.4787},{"t":877,"v":1.4782},{"t":882,"v":1.4791},{"t":887,"v":1.4777},{"t":890,"v":1.4791},{"t":895,"v":1.4819},{"t":898,"v":1.4823},{"t":902,"v":1.4814},{"t":906,"v":1.4810},{"t":910,"v":1.4805},{"t":915,"v":1.4800},{"t":920,"v":1.4800},{"t":925,"v":1.4796},{"t":930,"v":1.4800},{"t":935,"v":1.4791},{"t":938,"v":1.4759},{"t":942,"v":1.4777},{"t":946,"v":1.4768},{"t":950,"v":1.4773},{"t":955,"v":1.4768},{"t":960,"v":1.4773},{"t":965,"v":1.4768},{"t":970,"v":1.4773},{"t":975,"v":1.4777},{"t":980,"v":1.4773},{"t":985,"v":1.4782},{"t":990,"v":1.4773},{"t":995,"v":1.4782},{"t":1000,"v":1.4787},{"t":1005,"v":1.4791},{"t":1010,"v":1.4782},{"t":1015,"v":1.4768},{"t":1020,"v":1.4777},{"t":1025,"v":1.4763},{"t":1030,"v":1.4754},{"t":1035,"v":1.4759},{"t":1040,"v":1.4750},{"t":1045,"v":1.4741},{"t":1050,"v":1.4727},{"t":1055,"v":1.4741},{"t":1060,"v":1.4731},{"t":1063,"v":1.4713},{"t":1066,"v":1.4741},{"t":1070,"v":1.4727},{"t":1075,"v":1.4717},{"t":1078,"v":1.4676},{"t":1082,"v":1.4685},{"t":1086,"v":1.4690},{"t":1090,"v":1.4681},{"t":1095,"v":1.4685},{"t":1100,"v":1.4681},{"t":1105,"v":1.4685},{"t":1110,"v":1.4681},{"t":1115,"v":1.4685},{"t":1120,"v":1.4685},{"t":1125,"v":1.4690},{"t":1130,"v":1.4667},{"t":1135,"v":1.4658},{"t":1138,"v":1.4635},{"t":1142,"v":1.4625},{"t":1146,"v":1.4639},{"t":1150,"v":1.4621},{"t":1154,"v":1.4616},{"t":1158,"v":1.4612},{"t":1162,"v":1.4593},{"t":1166,"v":1.4616},{"t":1170,"v":1.4625},{"t":1174,"v":1.4639},{"t":1178,"v":1.4644},{"t":1182,"v":1.4653},{"t":1186,"v":1.4648},{"t":1190,"v":1.4635},{"t":1194,"v":1.4648},{"t":1198,"v":1.4658},{"t":1202,"v":1.4639},{"t":1205,"v":1.4644},{"t":1208,"v":1.4635}]
},
"vconcat": [
 {"bounds": "flush", "spacing": 0, "hconcat": [
   {"bounds": "flush", "spacing": 0, "vconcat": [
     {"width": 40, "height": 20, "mark": "point", "data": {"values": []}, "view": {"fill": "#e3051b", "stroke": null}},
     {"bounds": "flush", "spacing": 0, "hconcat": [
       {"width": 9, "height": 3, "mark": "point", "data": {"values": []}, "view": {"fill": "#000000", "stroke": null}},
       {"width": 22, "height": 3, "mark": "point", "data": {"values": []}, "view": {"fill": "#ffffff", "stroke": null}},
       {"width": 9, "height": 3, "mark": "point", "data": {"values": []}, "view": {"fill": "#000000", "stroke": null}}
     ]},
     {"width": 1, "height": 3, "mark": "point", "data": {"values": []}},
     {"width": 40, "height": 18, "mark": "point", "data": {"values": []}, "view": {"fill": "#000000", "stroke": null}}
   ]},
   {"width": 56, "height": 1, "mark": "point", "data": {"values": []}},
   {"bounds": "flush", "spacing": 0, "vconcat": [
     {"width": 400, "height": 30, "mark": "point", "data": {"values": []}, "title": {"text": "KB", "orient": "bottom", "anchor": "start", "frame": "group", "baseline": "alphabetic", "offset": 0, "font": "DejaVu Serif", "fontSize": 29, "fontWeight": "bold", "color": "#000000"}},
     {"width": 400, "height": 27, "mark": "point", "data": {"values": []}, "title": {"text": "Ekonomický a strategický výzkum", "orient": "bottom", "anchor": "start", "frame": "group", "baseline": "alphabetic", "offset": 0, "fontSize": 16.5, "fontWeight": "bold", "color": "#000000"}},
     {"width": 400, "height": 38, "mark": "point", "data": {"values": []}, "title": {"text": "Ekonomický výzkum", "orient": "bottom", "anchor": "start", "frame": "group", "baseline": "alphabetic", "offset": 0, "fontSize": 16, "fontWeight": "bold", "color": "#e3051b"}},
     {"width": 400, "height": 37, "mark": "point", "data": {"values": []}, "title": {"text": "Devizové trhy – grafická příloha", "orient": "bottom", "anchor": "start", "frame": "group", "dx": -4, "baseline": "alphabetic", "offset": 0, "fontSize": 24, "fontWeight": "bold", "color": "#e3051b"}}
   ]}
 ]},
 {"width": 1, "height": 180, "mark": "point", "data": {"values": []}},
 {"bounds": "flush", "spacing": 0, "hconcat": [
   {"width": 47, "height": 1, "mark": "point", "data": {"values": []}},
   {"bounds": "flush", "spacing": 0, "vconcat": [
     {"width": 1, "height": 13, "mark": "point", "data": {"values": []}, "title": {"text": "CZK/EUR", "orient": "bottom", "anchor": "start", "frame": "group", "dx": 4, "baseline": "alphabetic", "offset": 0, "fontSize": 16, "fontWeight": "bold", "color": "#000000"}},
     {"width": 1, "height": 7, "mark": "point", "data": {"values": []}},
     {"bounds": "flush", "spacing": 0, "hconcat": [
       {"width": 192, "height": 4, "mark": "point", "data": {"values": []}, "view": {"fill": "#e3051b", "stroke": null}},
       {"bounds": "flush", "spacing": 0, "vconcat": [
         {"width": 250, "height": 3, "mark": "point", "data": {"values": []}},
         {"width": 250, "height": 1, "mark": "point", "data": {"values": []}, "view": {"fill": "#e3051b", "stroke": null}}
       ]}
     ]},
     {"width": 1, "height": 20, "mark": "point", "data": {"values": []}},
     {"bounds": "flush", "spacing": 0, "hconcat": [
       {"width": 9, "height": 1, "mark": "point", "data": {"values": []}},
       {"width": 388, "height": 215, "data": {"name": "czk"},
        "mark": {"type": "line", "color": "#e8000d", "strokeWidth": 2},
        "encoding": {
          "x": {"field": "t", "type": "quantitative", "scale": {"domain": [35, 1200], "nice": false, "zero": false},
                "axis": {"title": null, "grid": false, "values": [144, 408, 672, 936, 1200], "labelExpr": "datum.value < 300 ? '23.02' : datum.value < 550 ? '26.02' : datum.value < 800 ? '02.03' : datum.value < 1100 ? '04.03' : '06.03'", "domainColor": "#b4b4b4", "tickColor": "#b4b4b4", "tickSize": 4, "labelPadding": 4, "labelFontSize": 11, "labelColor": "#1a1a1a", "labelFlush": false, "labelOverlap": false}},
          "y": {"field": "v", "type": "quantitative", "scale": {"domain": [26, 29], "nice": false, "zero": false},
                "axis": {"title": null, "orient": "right", "values": [26, 26.5, 27, 27.5, 28, 28.5, 29], "format": ".2f", "grid": true, "gridColor": "#e8e8e8", "domain": false, "ticks": false, "tickSize": 0, "labelPadding": 9, "labelAlign": "left", "labelFontSize": 11, "labelColor": "#1a1a1a"}}
        }}
     ]},
     {"width": 1, "height": 251, "mark": "point", "data": {"values": []}},
     {"width": 442, "height": 2, "mark": "point", "data": {"values": []}, "view": {"fill": "#a8a8a8", "stroke": null}, "title": {"text": "Zdroj: Reuters", "orient": "bottom", "anchor": "start", "frame": "group", "dx": 4, "baseline": "middle", "offset": 8, "fontSize": 10, "fontWeight": "normal", "color": "#111111"}}
   ]},
   {"width": 462, "height": 1, "mark": "point", "data": {"values": []}},
   {"bounds": "flush", "spacing": 0, "vconcat": [
     {"width": 1, "height": 13, "mark": "point", "data": {"values": []}, "title": {"text": "USD/EUR", "orient": "bottom", "anchor": "start", "frame": "group", "dx": 4, "baseline": "alphabetic", "offset": 0, "fontSize": 16, "fontWeight": "bold", "color": "#000000"}},
     {"width": 1, "height": 7, "mark": "point", "data": {"values": []}},
     {"bounds": "flush", "spacing": 0, "hconcat": [
       {"width": 192, "height": 4, "mark": "point", "data": {"values": []}, "view": {"fill": "#e3051b", "stroke": null}},
       {"bounds": "flush", "spacing": 0, "vconcat": [
         {"width": 250, "height": 3, "mark": "point", "data": {"values": []}},
         {"width": 250, "height": 1, "mark": "point", "data": {"values": []}, "view": {"fill": "#e3051b", "stroke": null}}
       ]}
     ]},
     {"width": 1, "height": 20, "mark": "point", "data": {"values": []}},
     {"bounds": "flush", "spacing": 0, "hconcat": [
       {"width": 12, "height": 1, "mark": "point", "data": {"values": []}},
       {"width": 379, "height": 219, "data": {"name": "usd"},
        "mark": {"type": "line", "color": "#e8000d", "strokeWidth": 2},
        "encoding": {
          "x": {"field": "t", "type": "quantitative", "scale": {"domain": [52, 1187], "nice": false, "zero": false},
                "axis": {"title": null, "grid": false, "values": [250, 485, 719, 953, 1187], "labelExpr": "datum.value < 400 ? '27.2' : datum.value < 600 ? '2.3' : datum.value < 850 ? '3.3' : datum.value < 1100 ? '5.3' : '6.3'", "domainColor": "#b4b4b4", "tickColor": "#b4b4b4", "tickSize": 4, "labelPadding": 4, "labelFontSize": 11, "labelColor": "#1a1a1a", "labelFlush": false, "labelOverlap": false}},
          "y": {"field": "v", "type": "quantitative", "scale": {"domain": [1.22, 1.29], "nice": false, "zero": false},
                "axis": {"title": null, "orient": "right", "values": [1.22, 1.23, 1.24, 1.25, 1.26, 1.27, 1.28, 1.29], "format": ".2f", "grid": true, "gridColor": "#e8e8e8", "domain": false, "ticks": false, "tickSize": 0, "labelPadding": 8, "labelAlign": "left", "labelFontSize": 11, "labelColor": "#1a1a1a"}}
        }}
     ]},
     {"width": 1, "height": 251, "mark": "point", "data": {"values": []}},
     {"width": 442, "height": 2, "mark": "point", "data": {"values": []}, "view": {"fill": "#a8a8a8", "stroke": null}}
   ]}
 ]},
 {"width": 1, "height": 350, "mark": "point", "data": {"values": []}},
 {"bounds": "flush", "spacing": 0, "hconcat": [
   {"width": 47, "height": 1, "mark": "point", "data": {"values": []}},
   {"bounds": "flush", "spacing": 0, "vconcat": [
     {"width": 1, "height": 13, "mark": "point", "data": {"values": []}, "title": {"text": "HUF/EUR", "orient": "bottom", "anchor": "start", "frame": "group", "dx": 4, "baseline": "alphabetic", "offset": 0, "fontSize": 16, "fontWeight": "bold", "color": "#000000"}},
     {"width": 1, "height": 7, "mark": "point", "data": {"values": []}},
     {"bounds": "flush", "spacing": 0, "hconcat": [
       {"width": 192, "height": 4, "mark": "point", "data": {"values": []}, "view": {"fill": "#e3051b", "stroke": null}},
       {"bounds": "flush", "spacing": 0, "vconcat": [
         {"width": 250, "height": 3, "mark": "point", "data": {"values": []}},
         {"width": 250, "height": 1, "mark": "point", "data": {"values": []}, "view": {"fill": "#e3051b", "stroke": null}}
       ]}
     ]},
     {"width": 1, "height": 20, "mark": "point", "data": {"values": []}},
     {"bounds": "flush", "spacing": 0, "hconcat": [
       {"width": 22, "height": 1, "mark": "point", "data": {"values": []}},
       {"width": 384, "height": 219, "data": {"name": "huf"},
        "mark": {"type": "line", "color": "#e8000d", "strokeWidth": 2},
        "encoding": {
          "x": {"field": "t", "type": "quantitative", "scale": {"domain": [75, 1228], "nice": false, "zero": false},
                "axis": {"title": null, "grid": false, "values": [78, 305, 536, 766, 997, 1228], "labelExpr": "datum.value < 200 ? '19.02' : datum.value < 400 ? '24.02' : datum.value < 650 ? '25.02' : datum.value < 900 ? '02.03' : datum.value < 1100 ? '04.03' : '06.03'", "domainColor": "#b4b4b4", "tickColor": "#b4b4b4", "tickSize": 4, "labelPadding": 4, "labelFontSize": 11, "labelColor": "#1a1a1a", "labelFlush": false, "labelOverlap": false}},
          "y": {"field": "v", "type": "quantitative", "scale": {"domain": [280, 320], "nice": false, "zero": false},
                "axis": {"title": null, "orient": "right", "values": [280, 285, 290, 295, 300, 305, 310, 315, 320], "format": "d", "grid": true, "gridColor": "#e8e8e8", "domain": false, "ticks": false, "tickSize": 0, "labelPadding": 8, "labelAlign": "left", "labelFontSize": 11, "labelColor": "#1a1a1a"}}
        }}
     ]},
     {"width": 1, "height": 251, "mark": "point", "data": {"values": []}},
     {"width": 442, "height": 2, "mark": "point", "data": {"values": []}, "view": {"fill": "#a8a8a8", "stroke": null}, "title": {"text": "Zdroj: Reuters", "orient": "bottom", "anchor": "start", "frame": "group", "dx": 4, "baseline": "middle", "offset": 8, "fontSize": 10, "fontWeight": "normal", "color": "#111111"}}
   ]},
   {"width": 462, "height": 1, "mark": "point", "data": {"values": []}},
   {"bounds": "flush", "spacing": 0, "vconcat": [
     {"width": 1, "height": 13, "mark": "point", "data": {"values": []}, "title": {"text": "PLN/EUR", "orient": "bottom", "anchor": "start", "frame": "group", "dx": 4, "baseline": "alphabetic", "offset": 0, "fontSize": 16, "fontWeight": "bold", "color": "#000000"}},
     {"width": 1, "height": 7, "mark": "point", "data": {"values": []}},
     {"bounds": "flush", "spacing": 0, "hconcat": [
       {"width": 192, "height": 4, "mark": "point", "data": {"values": []}, "view": {"fill": "#e3051b", "stroke": null}},
       {"bounds": "flush", "spacing": 0, "vconcat": [
         {"width": 250, "height": 3, "mark": "point", "data": {"values": []}},
         {"width": 250, "height": 1, "mark": "point", "data": {"values": []}, "view": {"fill": "#e3051b", "stroke": null}}
       ]}
     ]},
     {"width": 1, "height": 20, "mark": "point", "data": {"values": []}},
     {"bounds": "flush", "spacing": 0, "hconcat": [
       {"width": 37, "height": 1, "mark": "point", "data": {"values": []}},
       {"width": 366, "height": 218, "data": {"name": "pln"},
        "mark": {"type": "line", "color": "#e8000d", "strokeWidth": 2},
        "encoding": {
          "x": {"field": "t", "type": "quantitative", "scale": {"domain": [127, 1225], "nice": false, "zero": false},
                "axis": {"title": null, "grid": false, "values": [130, 347, 566, 786, 1005, 1225], "labelExpr": "datum.value < 250 ? '20.02' : datum.value < 450 ? '24.02' : datum.value < 680 ? '26.02' : datum.value < 900 ? '02.03' : datum.value < 1100 ? '04.03' : '06.03'", "domainColor": "#b4b4b4", "tickColor": "#b4b4b4", "tickSize": 4, "labelPadding": 4, "labelFontSize": 11, "labelColor": "#1a1a1a", "labelFlush": false, "labelOverlap": false}},
          "y": {"field": "v", "type": "quantitative", "scale": {"domain": [4.4, 4.85], "nice": false, "zero": false},
                "axis": {"title": null, "orient": "right", "values": [4.4, 4.45, 4.5, 4.55, 4.6, 4.65, 4.7, 4.75, 4.8, 4.85], "format": ".2f", "grid": true, "gridColor": "#e8e8e8", "domain": false, "ticks": false, "tickSize": 0, "labelPadding": 8, "labelAlign": "left", "labelFontSize": 11, "labelColor": "#1a1a1a"}}
        }}
     ]},
     {"width": 1, "height": 251, "mark": "point", "data": {"values": []}},
     {"width": 442, "height": 2, "mark": "point", "data": {"values": []}, "view": {"fill": "#a8a8a8", "stroke": null}}
   ]}
 ]},
 {"width": 1, "height": 350, "mark": "point", "data": {"values": []}},
 {"bounds": "flush", "spacing": 0, "hconcat": [
   {"width": 47, "height": 1, "mark": "point", "data": {"values": []}},
   {"bounds": "flush", "spacing": 0, "vconcat": [
     {"width": 1, "height": 13, "mark": "point", "data": {"values": []}, "title": {"text": "GBP/EUR", "orient": "bottom", "anchor": "start", "frame": "group", "dx": 4, "baseline": "alphabetic", "offset": 0, "fontSize": 16, "fontWeight": "bold", "color": "#000000"}},
     {"width": 1, "height": 7, "mark": "point", "data": {"values": []}},
     {"bounds": "flush", "spacing": 0, "hconcat": [
       {"width": 192, "height": 4, "mark": "point", "data": {"values": []}, "view": {"fill": "#e3051b", "stroke": null}},
       {"bounds": "flush", "spacing": 0, "vconcat": [
         {"width": 250, "height": 3, "mark": "point", "data": {"values": []}},
         {"width": 250, "height": 1, "mark": "point", "data": {"values": []}, "view": {"fill": "#e3051b", "stroke": null}}
       ]}
     ]},
     {"width": 1, "height": 20, "mark": "point", "data": {"values": []}},
     {"bounds": "flush", "spacing": 0, "hconcat": [
       {"width": 11, "height": 1, "mark": "point", "data": {"values": []}},
       {"width": 386, "height": 219, "data": {"name": "gbp"},
        "mark": {"type": "line", "color": "#e8000d", "strokeWidth": 2},
        "encoding": {
          "x": {"field": "t", "type": "quantitative", "scale": {"domain": [42, 1200], "nice": false, "zero": false},
                "axis": {"title": null, "grid": false, "values": [45, 274, 505, 737, 968, 1200], "labelExpr": "datum.value < 150 ? '25.02' : datum.value < 400 ? '27.02' : datum.value < 620 ? '02.03' : datum.value < 850 ? '03.03' : datum.value < 1100 ? '05.03' : '06.03'", "domainColor": "#b4b4b4", "tickColor": "#b4b4b4", "tickSize": 4, "labelPadding": 4, "labelFontSize": 11, "labelColor": "#1a1a1a", "labelFlush": false, "labelOverlap": false}},
          "y": {"field": "v", "type": "quantitative", "scale": {"domain": [0.87, 0.905], "nice": false, "zero": false},
                "axis": {"title": null, "orient": "right", "values": [0.87, 0.875, 0.88, 0.885, 0.89, 0.895, 0.9, 0.905], "format": ".3f", "grid": true, "gridColor": "#e8e8e8", "domain": false, "ticks": false, "tickSize": 0, "labelPadding": 9, "labelAlign": "left", "labelFontSize": 11, "labelColor": "#1a1a1a"}}
        }}
     ]},
     {"width": 1, "height": 251, "mark": "point", "data": {"values": []}},
     {"width": 442, "height": 2, "mark": "point", "data": {"values": []}, "view": {"fill": "#a8a8a8", "stroke": null}, "title": {"text": "Zdroj: Reuters", "orient": "bottom", "anchor": "start", "frame": "group", "dx": 4, "baseline": "middle", "offset": 8, "fontSize": 10, "fontWeight": "normal", "color": "#111111"}}
   ]},
   {"width": 462, "height": 1, "mark": "point", "data": {"values": []}},
   {"bounds": "flush", "spacing": 0, "vconcat": [
     {"width": 1, "height": 13, "mark": "point", "data": {"values": []}, "title": {"text": "CHF/EUR", "orient": "bottom", "anchor": "start", "frame": "group", "dx": 4, "baseline": "alphabetic", "offset": 0, "fontSize": 16, "fontWeight": "bold", "color": "#000000"}},
     {"width": 1, "height": 7, "mark": "point", "data": {"values": []}},
     {"bounds": "flush", "spacing": 0, "hconcat": [
       {"width": 192, "height": 4, "mark": "point", "data": {"values": []}, "view": {"fill": "#e3051b", "stroke": null}},
       {"bounds": "flush", "spacing": 0, "vconcat": [
         {"width": 250, "height": 3, "mark": "point", "data": {"values": []}},
         {"width": 250, "height": 1, "mark": "point", "data": {"values": []}, "view": {"fill": "#e3051b", "stroke": null}}
       ]}
     ]},
     {"width": 1, "height": 20, "mark": "point", "data": {"values": []}},
     {"bounds": "flush", "spacing": 0, "hconcat": [
       {"width": 12, "height": 1, "mark": "point", "data": {"values": []}},
       {"width": 386, "height": 217, "data": {"name": "chf"},
        "mark": {"type": "line", "color": "#e8000d", "strokeWidth": 2},
        "encoding": {
          "x": {"field": "t", "type": "quantitative", "scale": {"domain": [52, 1208], "nice": false, "zero": false},
                "axis": {"title": null, "grid": false, "values": [55, 283, 514, 746, 977, 1208], "labelExpr": "datum.value < 150 ? '25.02' : datum.value < 400 ? '27.02' : datum.value < 620 ? '02.03' : datum.value < 850 ? '03.03' : datum.value < 1100 ? '05.03' : '06.03'", "domainColor": "#b4b4b4", "tickColor": "#b4b4b4", "tickSize": 4, "labelPadding": 4, "labelFontSize": 11, "labelColor": "#1a1a1a", "labelFlush": false, "labelOverlap": false}},
          "y": {"field": "v", "type": "quantitative", "scale": {"domain": [1.44, 1.5], "nice": false, "zero": false},
                "axis": {"title": null, "orient": "right", "values": [1.44, 1.45, 1.46, 1.47, 1.48, 1.49, 1.5], "format": ".3f", "grid": true, "gridColor": "#e8e8e8", "domain": false, "ticks": false, "tickSize": 0, "labelPadding": 8, "labelAlign": "left", "labelFontSize": 11, "labelColor": "#1a1a1a"}}
        }}
     ]},
     {"width": 1, "height": 251, "mark": "point", "data": {"values": []}},
     {"width": 442, "height": 2, "mark": "point", "data": {"values": []}, "view": {"fill": "#a8a8a8", "stroke": null}}
   ]}
 ]},
 {"width": 1, "height": 455, "mark": "point", "data": {"values": []}},
 {"bounds": "flush", "spacing": 0, "hconcat": [
   {"width": 280, "height": 1, "mark": "point", "data": {"values": []}},
   {"width": 600, "height": 1, "mark": "point", "data": {"values": []}, "view": {"fill": "#8c8c8c", "stroke": null}, "title": {"text": "6. března 2009", "orient": "bottom", "anchor": "start", "frame": "group", "dx": 2, "baseline": "middle", "offset": 11, "fontSize": 12.5, "fontWeight": "normal", "color": "#000000"}},
   {"width": 71, "height": 1, "mark": "point", "data": {"values": []}, "view": {"fill": "#8c8c8c", "stroke": null}, "title": {"text": "7", "orient": "bottom", "anchor": "end", "frame": "group", "dx": -2, "baseline": "middle", "offset": 11, "fontSize": 13, "fontWeight": "bold", "color": "#000000"}}
 ]}
]
}
